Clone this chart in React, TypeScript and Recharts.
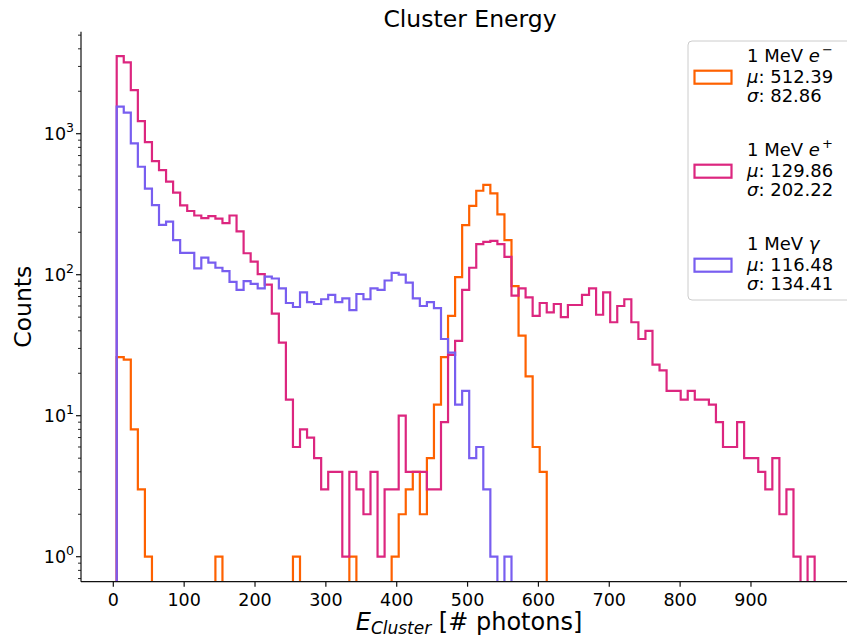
import { LineChart, Line, XAxis, YAxis } from 'recharts';

// Histogram binning: 100 equal bins
const BIN_START = 4.8;
const BIN_WIDTH = 9.95;

// Counts per bin, 1 MeV electrons
const electronCounts = [
  26, 25, 8, 3, 1, 0, 0, 0, 0, 0,
  0, 0, 0, 0, 1, 0, 0, 0, 0, 0,
  0, 0, 0, 0, 0, 1, 0, 0, 0, 0,
  0, 0, 0, 1, 0, 0, 0, 0, 0, 1,
  2, 3, 4, 2, 5, 12, 26, 51, 96, 225,
  308, 394, 433, 378, 268, 176, 83, 37, 19, 6,
  4, 0, 0, 0, 0, 0, 0, 0, 0, 0,
  0, 0, 0, 0, 0, 0, 0, 0, 0, 0,
  0, 0, 0, 0, 0, 0, 0, 0, 0, 0,
  0, 0, 0, 0, 0, 0, 0, 0, 0, 0,
];

// Counts per bin, 1 MeV positrons
const positronCounts = [
  3550, 3210, 2040, 1230, 873, 640, 552, 457, 382, 310,
  283, 263, 252, 260, 250, 232, 263, 203, 142, 124,
  101, 85, 53, 33, 13, 6, 8, 7, 5, 3,
  4, 4, 1, 4, 3, 2, 4, 1, 3, 3,
  10, 4, 4, 4, 3, 3, 9, 27, 34, 78,
  112, 165, 171, 174, 165, 134, 71, 80, 69, 51,
  63, 54, 62, 50, 61, 61, 72, 80, 52, 75,
  46, 60, 67, 46, 35, 40, 23, 21, 15, 15,
  13, 15, 13, 13, 12, 9, 6, 6, 9, 5,
  5, 4, 3, 5, 2, 3, 1, 0, 1, 0,
];

// Counts per bin, 1 MeV gammas
const gammaCounts = [
  1554, 1409, 855, 583, 408, 312, 226, 238, 176, 143,
  143, 111, 132, 122, 112, 106, 89, 78, 90, 86,
  80, 97, 94, 80, 63, 59, 75, 64, 62, 67,
  72, 64, 68, 56, 73, 67, 80, 78, 91, 103,
  100, 88, 68, 60, 64, 58, 35, 28, 12, 15,
  5, 6, 3, 1, 0, 1, 0, 0, 0, 0,
  0, 0, 0, 0, 0, 0, 0, 0, 0, 0,
  0, 0, 0, 0, 0, 0, 0, 0, 0, 0,
  0, 0, 0, 0, 0, 0, 0, 0, 0, 0,
  0, 0, 0, 0, 0, 0, 0, 0, 0, 0,
];

const seriesKeys = ['electron', 'positron', 'gamma'];
const seriesColors = ['#FE6100', '#DC267F', '#785EF0'];
const seriesParticles = ['e', 'e', 'γ'];
const seriesCharges = ['−', '+', ''];
const seriesMeans = ['512.39', '129.86', '116.48'];
const seriesSigmas = ['82.86', '202.22', '134.41'];

const xTicks = [0, 100, 200, 300, 400, 500, 600, 700, 800, 900];
const yTicks = [
  0.7, 0.8, 0.9,
  1, 2, 3, 4, 5, 6, 7, 8, 9,
  10, 20, 30, 40, 50, 60, 70, 80, 90,
  100, 200, 300, 400, 500, 600, 700, 800, 900,
  1000, 2000, 3000, 4000, 5000,
];

const X_DOMAIN: [number, number] = [-45.6, 1056.7];
const Y_DOMAIN: [number, number] = [0.665, 5290];
// empty bins sit below the visible range so the outline drops to the axis
const EMPTY = 0.1;

const FONT = 'DejaVu Sans, sans-serif';
const AXIS_COLOR = '#111';

const rows: Record<string, number>[] = [];
rows.push({ x: BIN_START, electron: EMPTY, positron: EMPTY, gamma: EMPTY });
for (let k = 0; k < electronCounts.length; k++) {
  rows.push({
    x: BIN_START + k * BIN_WIDTH,
    electron: electronCounts[k] || EMPTY,
    positron: positronCounts[k] || EMPTY,
    gamma: gammaCounts[k] || EMPTY,
  });
}
rows.push({
  x: BIN_START + electronCounts.length * BIN_WIDTH,
  electron: EMPTY,
  positron: EMPTY,
  gamma: EMPTY,
});

const XTick = (props: any) => {
  const { x, y, payload } = props;
  return (
    <g>
      <line x1={x} x2={x} y1={y} y2={y + 5} stroke={AXIS_COLOR} strokeWidth={1.2} />
      <text x={x} y={y + 24} textAnchor="middle" fontFamily={FONT} fontSize={17.5} fill="#000">
        {payload.value}
      </text>
    </g>
  );
};

const YTick = (props: any) => {
  const { x, y, payload } = props;
  const lg = Math.log10(payload.value);
  const exp = Math.round(lg);
  const major = Math.abs(lg - exp) < 1e-6;
  return (
    <g>
      <line x1={x - (major ? 5 : 3)} x2={x} y1={y} y2={y} stroke={AXIS_COLOR} strokeWidth={major ? 1.2 : 0.9} />
      {major && (
        <text x={x - 7} y={y + 6} textAnchor="end" fontFamily={FONT} fontSize={17.5} fill="#000">
          10
          <tspan dy={-8} fontSize={12.5}>{exp}</tspan>
        </text>
      )}
    </g>
  );
};

const LegendBox = () => {
  const top = 61.7;
  const step = 94;
  return (
    <g fontFamily={FONT} fontSize={18} fill="#000">
      <rect x={688} y={41} width={200} height={259} rx={4} fill="#fff" fillOpacity={0.8} stroke="#ccc" strokeWidth={1} />
      {seriesKeys.map((key, i) => {
        const b = top + i * step;
        return (
          <g key={key}>
            <rect x={694.5} y={b + 9} width={37} height={13} fill="none" stroke={seriesColors[i]} strokeWidth={2.2} />
            <text x={747} y={b}>
              1 MeV <tspan fontStyle="italic">{seriesParticles[i]}</tspan>
              {seriesCharges[i] && (
                <tspan dx={2} dy={-8} fontSize={13}>{seriesCharges[i]}</tspan>
              )}
            </text>
            <text x={747} y={b + 21}>
              <tspan fontStyle="italic">μ</tspan>: {seriesMeans[i]}
            </text>
            <text x={747} y={b + 40.5}>
              <tspan fontStyle="italic">σ</tspan>: {seriesSigmas[i]}
            </text>
          </g>
        );
      })}
    </g>
  );
};

export default function App() {
  return (
    <div style={{ position: 'absolute', left: 0, top: 0, width: 847, height: 637, overflow: 'hidden', background: '#fff' }}>
      <LineChart width={880} height={637} data={rows} margin={{ top: 31.7, right: 18, left: 0, bottom: 0 }}>
        <XAxis
          dataKey="x"
          type="number"
          domain={X_DOMAIN}
          allowDataOverflow
          ticks={xTicks}
          interval={0}
          height={55.3}
          tickSize={0}
          tickMargin={0}
          tick={<XTick />}
          axisLine={{ stroke: AXIS_COLOR, strokeWidth: 1.2 }}
        />
        <XAxis
          xAxisId="top"
          orientation="top"
          type="number"
          domain={X_DOMAIN}
          allowDataOverflow
          height={0}
          tick={false}
          tickLine={false}
          axisLine={{ stroke: AXIS_COLOR, strokeWidth: 1.2 }}
        />
        <YAxis
          type="number"
          scale="log"
          domain={Y_DOMAIN}
          allowDataOverflow
          ticks={yTicks}
          interval={0}
          width={81}
          tickSize={0}
          tickMargin={0}
          tick={<YTick />}
          axisLine={{ stroke: AXIS_COLOR, strokeWidth: 1.2 }}
        />
        {seriesKeys.map((key, i) => (
          <Line
            key={key}
            dataKey={key}
            type="stepAfter"
            stroke={seriesColors[i]}
            strokeWidth={2.2}
            strokeLinejoin="miter"
            dot={false}
            activeDot={false}
            isAnimationActive={false}
          />
        ))}
      </LineChart>
      <svg width={847} height={637} style={{ position: 'absolute', left: 0, top: 0, pointerEvents: 'none' }}>
        <text x={470} y={27} textAnchor="middle" fontFamily={FONT} fontSize={23.5} fill="#000">
          Cluster Energy
        </text>
        <text x={469} y={630} textAnchor="middle" fontFamily={FONT} fontSize={24} fill="#000">
          <tspan fontStyle="italic">E</tspan>
          <tspan fontStyle="italic" fontSize={17} dy={4}>Cluster</tspan>
          <tspan dy={-4}> [# photons]</tspan>
        </text>
        <text
          x={31}
          y={306.7}
          transform="rotate(-90 31 306.7)"
          textAnchor="middle"
          fontFamily={FONT}
          fontSize={23.5}
          fill="#000"
        >
          Counts
        </text>
        <LegendBox />
      </svg>
    </div>
  );
}
